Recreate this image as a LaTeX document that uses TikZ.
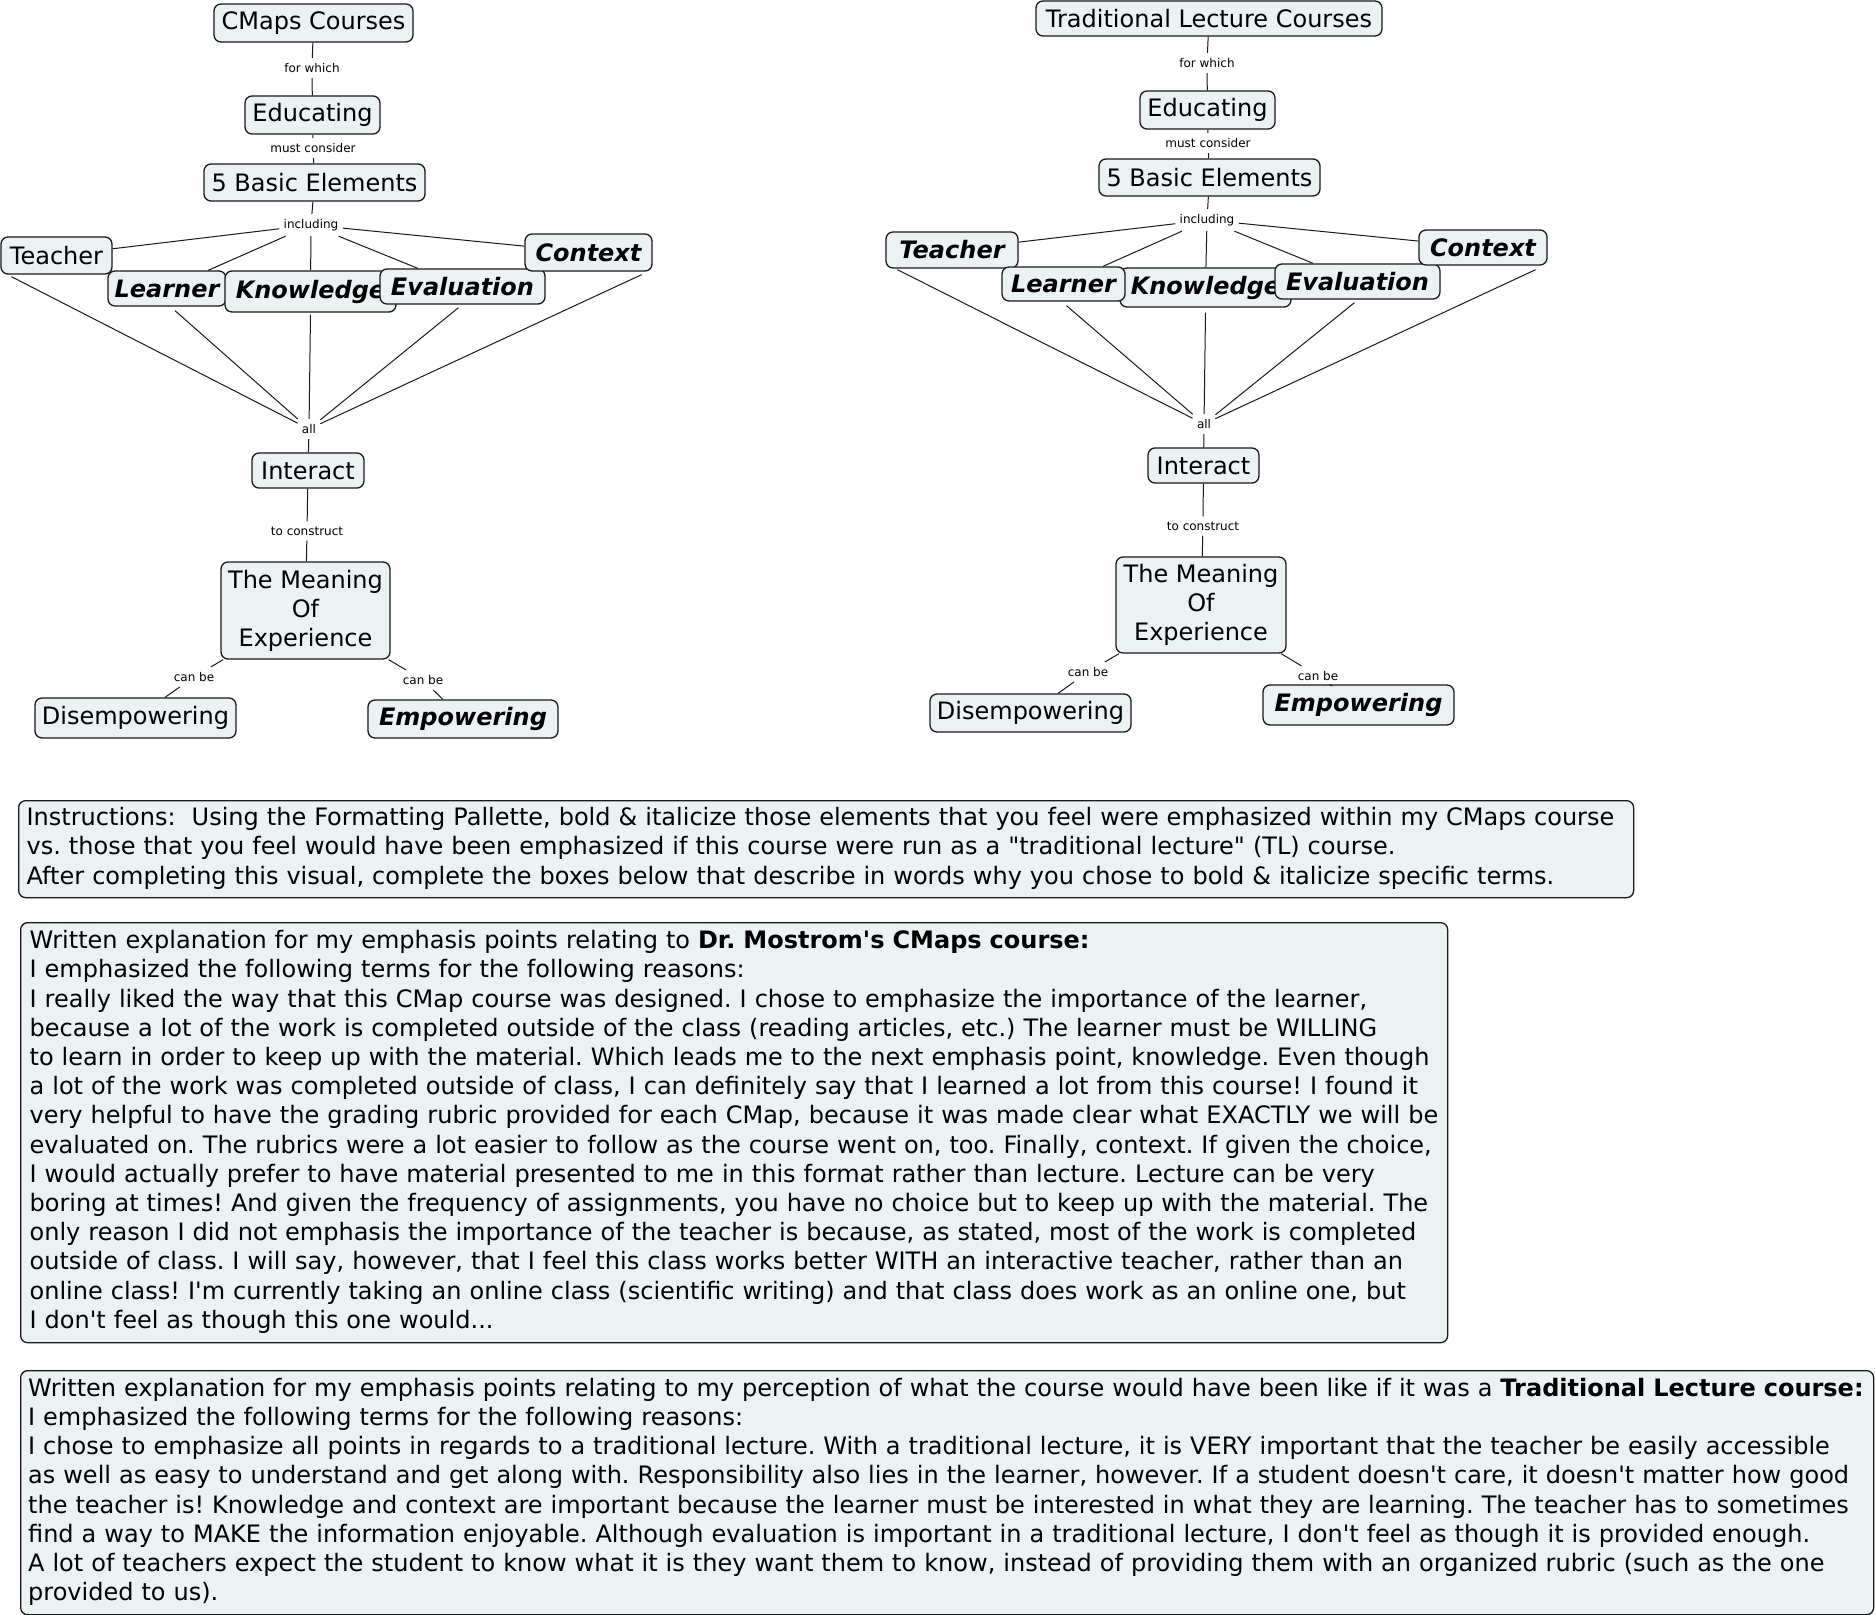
\documentclass[tikz,border=0pt]{standalone}
\usepackage{fontspec}
\newfontfamily\vf[BoldFont={DejaVu Sans Bold},ItalicFont={DejaVu Sans Oblique},BoldItalicFont={DejaVu Sans Bold Oblique}]{DejaVu Sans}
\usetikzlibrary{calc}
\definecolor{cfill}{RGB}{235,242,244}
\definecolor{cline}{RGB}{25,25,25}
\frenchspacing
\begin{document}
\begin{tikzpicture}[x=0.5pt,y=-0.5pt,
  concept/.style={draw=cline, line width=0.65pt, rounded corners=3.5pt, fill=cfill, inner sep=0pt, align=center, font=\vf\fontsize{12}{14.5}\selectfont},
  sz/.style 2 args={minimum width=#1*0.5pt, minimum height=#2*0.5pt},
  bi/.style={font=\vf\fontsize{12}{14.5}\selectfont\bfseries\itshape},
  link/.style={inner xsep=2pt, inner ysep=2.5pt, font=\vf\fontsize{6}{7}\selectfont},
  conn/.style={draw=cline, line width=0.5pt},
  tbox/.style={draw=cline, line width=0.65pt, rounded corners=3.5pt, fill=cfill, anchor=north west, align=left, inner ysep=0pt, font=\vf\fontsize{12}{14.6}\selectfont\frenchspacing}
]
\path[use as bounding box, fill=white] (0,0) rectangle (1875,1615);

% ---------- left map ----------
\node[concept, sz={199}{38}] (cm1) at (313.5,23) {CMaps Courses};
\node[concept, sz={135}{38}] (ed1) at (312.5,115) {Educating};
\node[concept, sz={221}{37}] (be1) at (314.5,182.5) {5 Basic Elements};
\node[concept, sz={111}{37}] (te1) at (56.5,255.5) {Teacher};
\node[concept, bi, sz={118}{35}] (le1) at (167,288.5) {Learner};
\node[concept, bi, sz={171}{41}] (kn1) at (310.5,291.5) {Knowledge};
\node[concept, bi, sz={165}{35}] (ev1) at (462.5,286.5) {Evaluation};
\node[concept, bi, sz={127}{37}] (co1) at (588.5,252.5) {Context};
\node[concept, sz={112}{35}] (in1) at (308,470.5) {Interact};
\node[concept, sz={169}{97}] (me1) at (305.5,610.5) {The Meaning\\Of\\Experience};
\node[concept, sz={201}{40}] (di1) at (135.5,718) {Disempowering};
\node[concept, bi, sz={190}{38}] (em1) at (463,719) {Empowering};

\node[link] (fw1) at (312,68) {for which};
\node[link] (mc1) at (313,148) {must consider};
\node[link] (inc1) at (311,225) {including};
\node[link] (all1) at (309,429) {all};
\node[link] (tc1) at (307,531) {to construct};
\node[link] (cba1) at (194,677) {can be};
\node[link] (cbb1) at (423,680) {can be};

\draw[conn] (cm1) -- (fw1);
\draw[conn] (fw1) -- (ed1);
\draw[conn] (ed1) -- (mc1);
\draw[conn] (mc1) -- (be1);
\draw[conn] (be1) -- (inc1);
\draw[conn] (inc1) -- (te1);
\draw[conn] (inc1) -- (le1);
\draw[conn] (inc1) -- (kn1);
\draw[conn] (inc1) -- (ev1);
\draw[conn] (inc1) -- (co1);
\draw[conn] ($(te1.south west)+(11,2)$) -- (all1);
\draw[conn] ($(le1.south)+(8,4)$) -- (all1);
\draw[conn] ($(kn1.south)+(0,2)$) -- (all1);
\draw[conn] ($(ev1.south)+(-4,3)$) -- (all1);
\draw[conn] ($(co1.south east)+(-11,3)$) -- (all1);
\draw[conn] (all1) -- (in1);
\draw[conn] (in1) -- (tc1);
\draw[conn] (tc1) -- (me1);
\draw[conn] (me1) -- (cba1);
\draw[conn] (cba1) -- (di1);
\draw[conn] (me1) -- (cbb1);
\draw[conn] (cbb1) -- (em1);

% ---------- right map ----------
\node[concept, sz={346}{35}] (cm2) at (1209,18.5) {Traditional Lecture Courses};
\node[concept, sz={135}{38}] (ed2) at (1207.5,110) {Educating};
\node[concept, sz={221}{37}] (be2) at (1209.5,177.5) {5 Basic Elements};
\node[concept, bi, sz={132}{36}] (te2) at (952,250) {Teacher};
\node[concept, bi, sz={171}{39}] (kn2) at (1205.5,287.5) {Knowledge};
\node[concept, bi, sz={123}{34}] (le2) at (1063.5,284) {Learner};
\node[concept, bi, sz={165}{35}] (ev2) at (1357.5,281.5) {Evaluation};
\node[concept, bi, sz={128}{35}] (co2) at (1483,247.5) {Context};
\node[concept, sz={111}{35}] (in2) at (1203.5,465.5) {Interact};
\node[concept, sz={170}{96}] (me2) at (1201,605) {The Meaning\\Of\\Experience};
\node[concept, sz={201}{38}] (di2) at (1030.5,713) {Disempowering};
\node[concept, bi, sz={191}{40}] (em2) at (1358.5,705) {Empowering};

\node[link] (fw2) at (1207,63) {for which};
\node[link] (mc2) at (1208,143) {must consider};
\node[link] (inc2) at (1207,220) {including};
\node[link] (all2) at (1204,424) {all};
\node[link] (tc2) at (1203,526) {to construct};
\node[link] (cba2) at (1088,672) {can be};
\node[link] (cbb2) at (1318,676) {can be};

\draw[conn] (cm2) -- (fw2);
\draw[conn] (fw2) -- (ed2);
\draw[conn] (ed2) -- (mc2);
\draw[conn] (mc2) -- (be2);
\draw[conn] (be2) -- (inc2);
\draw[conn] (inc2) -- (te2);
\draw[conn] (inc2) -- (le2);
\draw[conn] (inc2) -- (kn2);
\draw[conn] (inc2) -- (ev2);
\draw[conn] (inc2) -- (co2);
\draw[conn] ($(te2.south west)+(12,1)$) -- (all2);
\draw[conn] ($(le2.south)+(3,4)$) -- (all2);
\draw[conn] ($(kn2.south)+(0,5)$) -- (all2);
\draw[conn] ($(ev2.south)+(-3,3)$) -- (all2);
\draw[conn] ($(co2.south east)+(-12,4)$) -- (all2);
\draw[conn] (all2) -- (in2);
\draw[conn] (in2) -- (tc2);
\draw[conn] (tc2) -- (me2);
\draw[conn] (me2) -- (cba2);
\draw[conn] (cba2) -- (di2);
\draw[conn] (me2) -- (cbb2);
\draw[conn] (cbb2) -- (em2);

% ---------- text boxes ----------
\node[tbox, minimum height=48.5pt, text width=799.5pt, inner xsep=4pt] (ins) at (18,800) {\begin{tabular}{@{}l@{}}
Instructions:\ \ Using the Formatting Pallette, bold \& italicize those elements that you feel were emphasized within my CMaps course\\
vs. those that you feel would have been emphasized if this course were run as a "traditional lecture" (TL) course.\\
After completing this visual, complete the boxes below that describe in words why you chose to bold \& italicize specific terms.
\end{tabular}};

\node[tbox, minimum height=210pt, text width=704.5pt, inner xsep=4.5pt] (exp1) at (20,922) {\begin{tabular}{@{}l@{}}
Written explanation for my emphasis points relating to \textbf{Dr. Mostrom's CMaps course:}\\
I emphasized the following terms for the following reasons:\\
I really liked the way that this CMap course was designed. I chose to emphasize the importance of the learner,\\
because a lot of the work is completed outside of the class (reading articles, etc.) The learner must be WILLING\\
to learn in order to keep up with the material. Which leads me to the next emphasis point, knowledge. Even though\\
a lot of the work was completed outside of class, I can definitely say that I learned a lot from this course! I found it\\
very helpful to have the grading rubric provided for each CMap, because it was made clear what EXACTLY we will be\\
evaluated on. The rubrics were a lot easier to follow as the course went on, too. Finally, context. If given the choice,\\
I would actually prefer to have material presented to me in this format rather than lecture. Lecture can be very\\
boring at times! And given the frequency of assignments, you have no choice but to keep up with the material. The\\
only reason I did not emphasis the importance of the teacher is because, as stated, most of the work is completed\\
outside of class. I will say, however, that I feel this class works better WITH an interactive teacher, rather than an\\
online class! I'm currently taking an online class (scientific writing) and that class does work as an online one, but\\
I don't feel as though this one would...
\end{tabular}};

\node[tbox, minimum height=122pt, text width=919pt, inner xsep=3.75pt] (exp2) at (20,1370) {\begin{tabular}{@{}l@{}}
Written explanation for my emphasis points relating to my perception of what the course would have been like if it was a \textbf{Traditional Lecture course:}\\
I emphasized the following terms for the following reasons:\\
I chose to emphasize all points in regards to a traditional lecture. With a traditional lecture, it is VERY important that the teacher be easily accessible\\
as well as easy to understand and get along with. Responsibility also lies in the learner, however. If a student doesn't care, it doesn't matter how good\\
the teacher is! Knowledge and context are important because the learner must be interested in what they are learning. The teacher has to sometimes\\
find a way to MAKE the information enjoyable. Although evaluation is important in a traditional lecture, I don't feel as though it is provided enough.\\
A lot of teachers expect the student to know what it is they want them to know, instead of providing them with an organized rubric (such as the one\\
provided to us).
\end{tabular}};
\end{tikzpicture}
\end{document}
